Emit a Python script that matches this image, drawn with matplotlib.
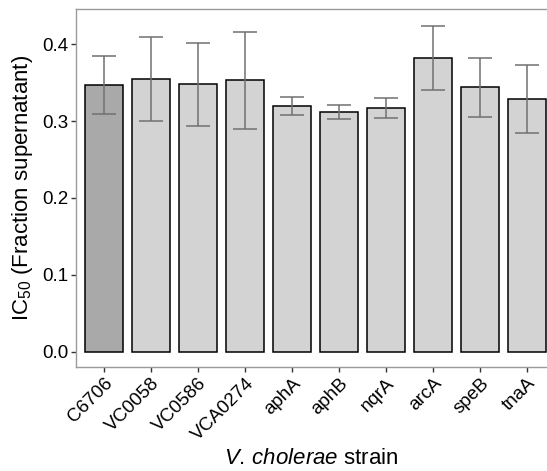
import matplotlib.pyplot as plt
import numpy as np

plt.rcParams['font.family'] = ['Liberation Sans', 'DejaVu Sans']
plt.rcParams['mathtext.fontset'] = 'custom'
plt.rcParams['mathtext.rm'] = 'Liberation Sans'
plt.rcParams['mathtext.it'] = 'Liberation Sans:italic'

# data
strains = ['C6706', 'VC0058', 'VC0586', 'VCA0274', 'aphA', 'aphB',
           'nqrA', 'arcA', 'speB', 'tnaA']
ic50 = [0.347, 0.355, 0.348, 0.353, 0.320, 0.312, 0.317, 0.382, 0.344, 0.329]
err = [0.038, 0.055, 0.054, 0.063, 0.012, 0.009, 0.013, 0.042, 0.038, 0.044]

colors = ['#A9A9A9'] + ['#D3D3D3'] * (len(strains) - 1)

fig = plt.figure(figsize=(5.47, 4.71), dpi=100)
ax = fig.add_axes([76 / 547, 1 - 367 / 471, 471 / 547, 358 / 471])

x = np.arange(len(strains))
ax.bar(x, ic50, width=0.81, color=colors, edgecolor='black', linewidth=1.1, zorder=2)
ax.errorbar(x, ic50, yerr=err, fmt='none', ecolor='#707070', elinewidth=1.1,
            capsize=8.4, capthick=1.1, zorder=3)

ax.set_xlim(-0.6, 9.42)
ax.set_ylim(-0.02, 0.446)
ax.set_yticks([0.0, 0.1, 0.2, 0.3, 0.4])
ax.set_yticklabels(['0.0', '0.1', '0.2', '0.3', '0.4'])
ax.set_xticks(x)
ax.set_xticklabels(strains, rotation=45, ha='right', rotation_mode='anchor')

for s in ['left', 'bottom', 'top']:
    ax.spines[s].set_color('#9A9A9A')
    ax.spines[s].set_linewidth(1.0)
ax.spines['right'].set_visible(False)

ax.tick_params(axis='both', colors='#333333', length=3.5, width=1.0,
               labelsize=13.5, labelcolor='black', pad=2)

ax.set_ylabel(r'IC$_{50}$ (Fraction supernatant)', fontsize=16, labelpad=5)
ax.set_xlabel(r'$\mathit{V.\,cholerae}$ strain', fontsize=16, labelpad=3)

fig.savefig('out.png', dpi=100)
